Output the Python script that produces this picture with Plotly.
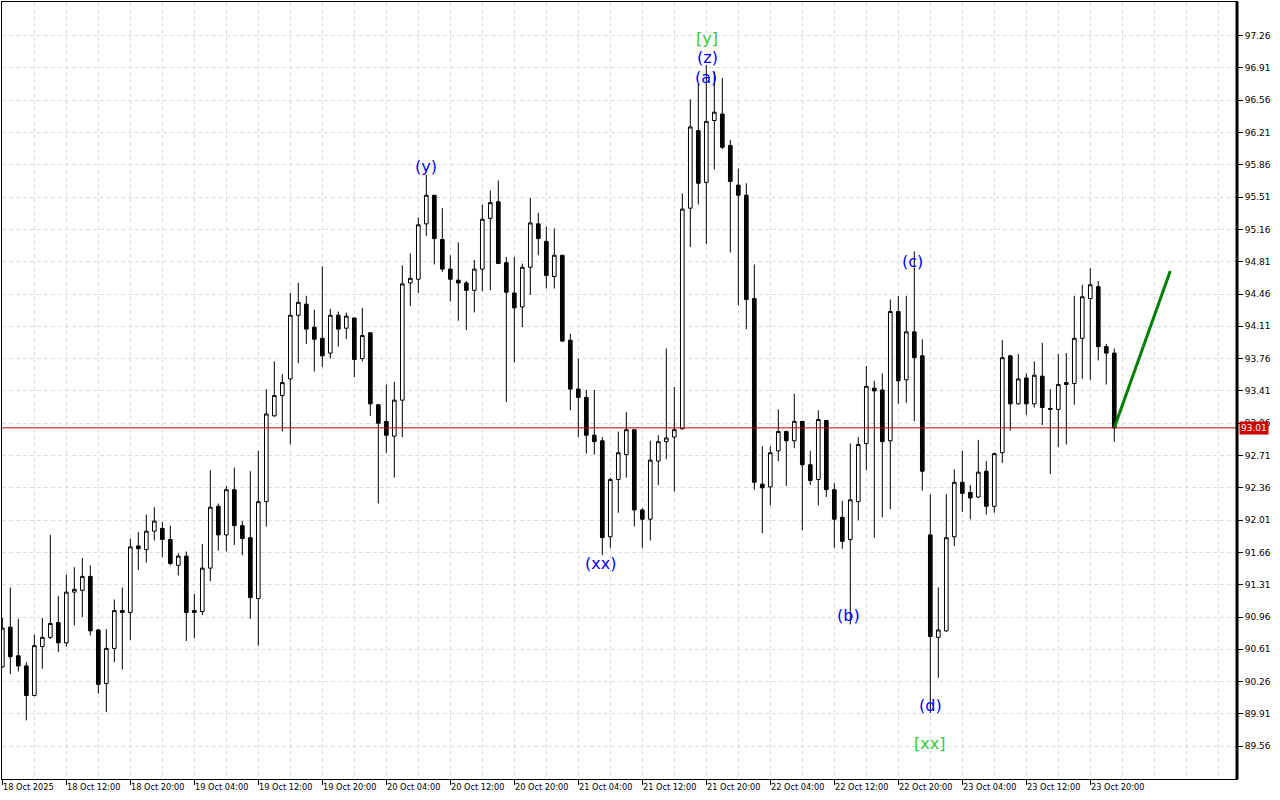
import plotly.graph_objects as go

# ---- data (hourly candles, index 0 = first bar on chart) ----
open_ = [90.42, 90.85, 90.54, 90.43, 90.11, 90.64, 90.74, 90.90, 90.68, 91.23,
         91.25, 91.40, 90.82, 90.24, 90.62, 91.03, 91.01, 91.73, 91.69, 91.89,
         91.92, 91.80, 91.52, 91.62, 91.03, 91.02, 91.49, 92.16, 91.85, 92.34,
         91.95, 91.82, 91.16, 92.21, 93.14, 93.36, 93.54, 94.23, 94.35, 94.10,
         93.98, 93.82, 94.23, 94.09, 94.20, 93.76, 94.04, 93.26, 93.08, 92.92,
         93.31, 94.58, 94.62, 95.22, 95.53, 95.05, 94.73, 94.61, 94.58, 94.50,
         94.73, 95.28, 95.46, 94.80, 94.47, 94.32, 94.75, 95.22, 95.03, 94.65,
         94.88, 93.96, 93.43, 93.34, 92.93, 92.87, 91.83, 92.45, 92.72, 92.99,
         92.12, 92.02, 92.65, 92.86, 92.91, 93.00, 95.39, 96.23, 95.67, 96.34,
         96.41, 96.07, 95.64, 95.53, 94.41, 92.40, 92.37, 92.76, 92.97, 92.87,
         93.08, 92.61, 92.45, 93.09, 92.34, 92.04, 91.80, 92.21, 92.84, 93.44,
         93.42, 92.87, 94.27, 93.53, 94.05, 93.79, 91.85, 90.74, 90.81, 91.83,
         92.42, 92.31, 92.26, 92.54, 92.16, 92.74, 93.79, 93.27, 93.55, 93.27,
         93.57, 93.22, 93.21, 93.50, 93.49, 93.98, 94.41, 94.54, 93.89, 93.82]

high = [90.95, 91.28, 90.94, 90.47, 90.77, 90.95, 91.85, 91.19, 91.42, 91.50,
        91.60, 91.52, 90.83, 90.83, 91.15, 91.28, 91.81, 91.88, 92.07, 92.15,
        91.99, 91.95, 91.65, 91.67, 91.21, 91.75, 92.55, 92.19, 92.38, 92.58,
        92.00, 92.54, 92.76, 93.43, 93.73, 93.59, 94.47, 94.58, 94.44, 94.29,
        94.76, 94.30, 94.27, 94.26, 94.20, 94.31, 94.04, 93.26, 93.48, 93.51,
        94.77, 94.90, 95.29, 95.75, 95.53, 95.39, 94.88, 95.02, 94.60, 94.83,
        95.43, 95.58, 95.69, 94.86, 94.86, 94.79, 95.50, 95.34, 95.19, 95.17,
        94.88, 94.03, 93.76, 93.42, 93.42, 92.91, 92.47, 92.97, 93.18, 92.99,
        92.14, 92.87, 92.93, 93.87, 93.45, 95.55, 96.57, 96.74, 96.94, 96.87,
        96.80, 96.13, 95.82, 95.66, 94.78, 92.81, 92.81, 93.21, 92.98, 93.38,
        93.08, 92.76, 93.20, 93.09, 92.41, 92.22, 92.84, 92.91, 93.68, 93.52,
        93.60, 94.40, 94.44, 94.44, 94.92, 93.97, 92.29, 91.28, 92.29, 92.56,
        92.76, 92.39, 92.88, 92.65, 92.74, 93.96, 93.80, 93.81, 93.60, 93.73,
        93.93, 93.43, 93.81, 93.82, 94.44, 94.56, 94.74, 94.60, 93.92, 93.87]

low = [90.41, 90.34, 90.37, 89.84, 90.10, 90.40, 90.72, 90.58, 90.64, 90.87,
       90.96, 90.76, 90.13, 89.93, 90.47, 90.39, 90.71, 91.47, 91.55, 91.79,
       91.61, 91.52, 91.41, 90.70, 90.73, 90.98, 91.35, 91.68, 91.67, 91.74,
       91.63, 90.94, 90.65, 91.94, 93.13, 92.97, 92.83, 93.71, 93.92, 93.62,
       93.67, 93.76, 93.89, 93.97, 93.56, 93.73, 93.14, 92.19, 92.74, 92.47,
       92.91, 94.33, 94.47, 95.09, 94.78, 94.70, 94.38, 94.17, 94.07, 94.26,
       94.49, 94.50, 94.79, 93.29, 93.72, 94.10, 94.45, 94.88, 94.52, 94.52,
       93.94, 93.20, 92.91, 92.73, 92.72, 91.63, 91.71, 92.09, 92.47, 91.94,
       91.71, 91.79, 92.39, 92.67, 92.32, 92.99, 94.97, 95.43, 95.00, 95.81,
       96.03, 94.91, 94.34, 94.08, 92.34, 91.87, 92.17, 92.65, 92.38, 92.79,
       91.90, 92.39, 92.17, 92.26, 91.71, 91.70, 90.88, 92.01, 92.55, 91.82,
       92.04, 92.13, 93.27, 93.28, 93.08, 92.33, 89.92, 90.30, 90.80, 91.73,
       92.10, 92.02, 92.25, 92.07, 92.09, 92.63, 92.98, 93.26, 93.15, 93.23,
       93.04, 92.51, 92.80, 92.83, 93.26, 93.54, 93.53, 93.74, 93.48, 92.86]

close = [90.84, 90.53, 90.43, 90.11, 90.65, 90.74, 90.89, 90.68, 91.23, 91.26,
         91.40, 90.81, 90.23, 90.62, 91.03, 91.01, 91.72, 91.70, 91.89, 92.00,
         91.80, 91.54, 91.62, 91.01, 91.01, 91.49, 92.15, 91.85, 92.34, 91.95,
         91.81, 91.17, 92.21, 93.16, 93.36, 93.50, 94.23, 94.37, 94.08, 93.97,
         93.79, 94.23, 94.08, 94.22, 93.75, 94.01, 93.27, 93.06, 92.93, 93.31,
         94.57, 94.63, 95.21, 95.53, 95.06, 94.73, 94.62, 94.58, 94.50, 94.73,
         95.27, 95.45, 94.79, 94.48, 94.31, 94.75, 95.23, 95.06, 94.66, 94.88,
         93.95, 93.43, 93.34, 92.93, 92.86, 91.82, 92.45, 92.74, 92.99, 92.12,
         92.02, 92.66, 92.86, 92.90, 92.99, 95.38, 96.27, 95.66, 96.33, 96.43,
         96.05, 95.68, 95.53, 94.40, 92.42, 92.36, 92.74, 92.97, 92.87, 93.08,
         92.61, 92.44, 93.10, 92.34, 92.02, 91.78, 92.23, 92.83, 93.46, 93.41,
         92.86, 94.27, 93.52, 94.05, 93.77, 92.54, 90.75, 90.82, 91.82, 92.42,
         92.30, 92.25, 92.53, 92.16, 92.73, 93.77, 93.27, 93.54, 93.27, 93.58,
         93.23, 93.21, 93.48, 93.48, 93.98, 94.43, 94.56, 93.89, 93.82, 93.01]

bar_index = list(range(len(close)))

xtick_pos = [0, 8, 16, 24, 32, 40, 48, 56, 64, 72, 80, 88, 96, 104, 112, 120, 128, 136]
xtick_labels = ["18 Oct 2025", "18 Oct 12:00", "18 Oct 20:00", "19 Oct 04:00",
                "19 Oct 12:00", "19 Oct 20:00", "20 Oct 04:00", "20 Oct 12:00",
                "20 Oct 20:00", "21 Oct 04:00", "21 Oct 12:00", "21 Oct 20:00",
                "22 Oct 04:00", "22 Oct 12:00", "22 Oct 20:00", "23 Oct 04:00",
                "23 Oct 12:00", "23 Oct 20:00"]

ytick_vals = [89.56, 89.91, 90.26, 90.61, 90.96, 91.31, 91.66, 92.01, 92.36, 92.71,
              93.06, 93.41, 93.76, 94.11, 94.46, 94.81, 95.16, 95.51, 95.86, 96.21,
              96.56, 96.91, 97.26]
ytick_labels = ["89.56", "89.91", "90.26", "90.61", "90.96", "91.31", "91.66", "92.01",
                "92.36", "92.71", "93.06", "93.41", "93.76", "94.11", "94.46", "94.81",
                "95.16", "95.51", "95.86", "96.21", "96.56", "96.91", "97.26"]

last_price = 93.01

wave_text = ["(y)", "(xx)", "[y]", "(z)", "(a)", "(b)", "(c)", "(d)", "[xx]"]
wave_x = [53.0, 74.8, 88.1, 88.1, 88.0, 105.8, 113.8, 116.0, 115.9]
wave_y = [95.84, 91.54, 97.23, 97.02, 96.81, 90.98, 94.81, 90.00, 89.59]
wave_kind = ["minor", "minor", "major", "minor", "minor", "minor", "minor", "minor", "major"]

proj_x = [139, 146]
proj_y = [93.01, 94.71]

# ---- figure ----
GRID = "#dedede"
FONT = "DejaVu Sans"
fig = go.Figure()

fig.add_trace(go.Candlestick(
    x=bar_index, open=open_, high=high, low=low, close=close,
    increasing=dict(line=dict(color="black", width=1), fillcolor="white"),
    decreasing=dict(line=dict(color="black", width=1), fillcolor="black"),
    whiskerwidth=0, showlegend=False, hoverinfo="skip",
))

fig.add_trace(go.Scatter(
    x=proj_x, y=proj_y, mode="lines",
    line=dict(color="#008000", width=3), showlegend=False, hoverinfo="skip",
))

fig.add_shape(type="line", xref="paper", x0=0, x1=1, yref="y",
              y0=last_price, y1=last_price, line=dict(color="#C00000", width=1))

# heavier right-hand price-scale border
fig.add_shape(type="line", xref="paper", x0=1, x1=1, yref="paper", y0=0, y1=1,
              line=dict(color="black", width=3), layer="above")

colors = {"minor": "#0000FF", "major": "#33CC33"}
for t, x, y, k in zip(wave_text, wave_x, wave_y, wave_kind):
    fig.add_annotation(x=x, y=y, text=t, showarrow=False,
                       font=dict(family=FONT, size=16, color=colors[k]),
                       xanchor="center", yanchor="middle")

# x-axis date labels, left-aligned just right of each tick
for xp, lab in zip(xtick_pos, xtick_labels):
    fig.add_annotation(x=xp, xref="x", y=0, yref="paper", text=lab, showarrow=False,
                       xanchor="left", yanchor="top", xshift=-1, yshift=-1,
                       font=dict(family=FONT, size=8.2, color="black"))

fig.add_annotation(xref="paper", x=1, y=last_price, yref="y", text=f"{last_price:.2f}",
                   showarrow=False, xanchor="left", yanchor="middle", xshift=2,
                   bgcolor="#CC0000", borderpad=1,
                   font=dict(family=FONT, size=9, color="white"))

fig.update_layout(
    width=1280, height=800,
    margin=dict(l=2, r=43, t=2, b=21, autoexpand=False),
    paper_bgcolor="white", plot_bgcolor="white",
    boxgap=0.35,
    showlegend=False,
    xaxis=dict(
        range=[-0.04, 154.34], rangeslider=dict(visible=False), automargin=False,
        tickmode="array", tickvals=xtick_pos, showticklabels=False,
        ticks="outside", ticklen=5, tickcolor="black", tickwidth=1,
        showgrid=True, gridcolor=GRID, griddash="4px,3px", gridwidth=1,
        minor=dict(tickmode="linear", tick0=0, dtick=4, showgrid=True,
                   gridcolor=GRID, griddash="4px,3px", ticks=""),
        showline=True, mirror=True, linecolor="black", linewidth=1, zeroline=False,
    ),
    yaxis=dict(
        range=[89.205, 97.624], side="right", automargin=False,
        tickmode="array", tickvals=ytick_vals, ticktext=ytick_labels,
        ticks="outside", ticklen=5, tickcolor="black",
        tickfont=dict(family=FONT, size=9, color="black"),
        showgrid=True, gridcolor=GRID, griddash="4px,3px", gridwidth=1,
        showline=True, mirror=True, linecolor="black", linewidth=1, zeroline=False,
    ),
)

fig.write_html(
    "out.html",
    config={"displayModeBar": False},
    post_script="document.body.style.margin='0';document.body.style.overflow='hidden';",
)
